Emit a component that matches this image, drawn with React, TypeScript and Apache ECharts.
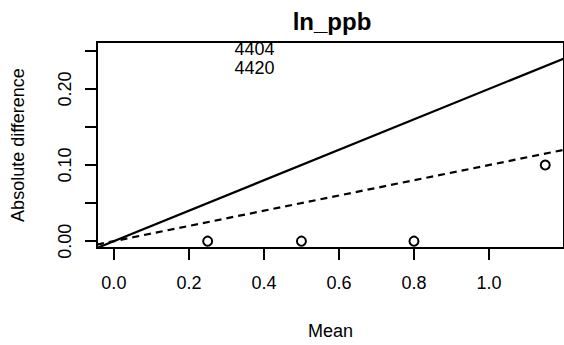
import React, { useEffect, useRef } from "react";
import * as echarts from "echarts";

// Axis limits
const xLimits = [-0.045, 1.2];
const yLimits = [-0.009, 0.2617];

// Tick positions and labelled ticks
const xTicks = [0.0, 0.2, 0.4, 0.6, 0.8, 1.0];
const yTicks = [0.0, 0.05, 0.1, 0.15, 0.2, 0.25];
const yLabelTicks = [0.0, 0.1, 0.2];

// Observations: mean vs absolute difference
const meanValues = [0.25, 0.5, 0.8, 1.15];
const absDiffValues = [0.0, 0.0, 0.0, 0.1];

// Identified sample labels
const idNames = ["4404", "4420"];
const idX = [0.375, 0.375];
const idY = [0.252, 0.228];

// Reference lines through the origin (abline slopes)
const solidSlope = 0.2;
const dashedSlope = 0.1;

const FONT = "'Liberation Sans', Arial, sans-serif";

function lineThroughOrigin(slope: number): number[][] {
  return xLimits.map((x) => [x, slope * x]);
}

export default function App() {
  const ref = useRef<HTMLDivElement>(null);

  useEffect(() => {
    document.body.style.margin = "0";
    if (!ref.current) return;
    const chart = echarts.init(ref.current, null, { renderer: "svg" });
    chart.setOption({
      animation: false,
      backgroundColor: "#fff",
      textStyle: { fontFamily: FONT },
      graphic: [
        {
          type: "text",
          x: 332,
          y: 21,
          style: {
            text: "ln_ppb",
            fill: "#000",
            font: `bold 24px ${FONT}`,
            textAlign: "center",
            textVerticalAlign: "middle",
          },
        },
      ],
      grid: {
        left: 97,
        top: 42,
        width: 470,
        height: 209,
        show: true,
        borderColor: "#000",
        borderWidth: 2,
        backgroundColor: "transparent",
      },
      xAxis: {
        type: "value",
        min: xLimits[0],
        max: xLimits[1],
        name: "Mean",
        nameLocation: "middle",
        nameGap: 74,
        nameTextStyle: { fontSize: 18, color: "#000", fontFamily: FONT },
        axisLine: { show: true, onZero: false, lineStyle: { color: "#000", width: 2 } },
        axisTick: {
          show: true,
          length: 12,
          customValues: xTicks,
          lineStyle: { color: "#000", width: 2 },
        },
        axisLabel: {
          customValues: xTicks,
          margin: 26,
          fontSize: 18,
          color: "#000",
          fontFamily: FONT,
          formatter: (v: number) => v.toFixed(1),
        },
        splitLine: { show: false },
      },
      yAxis: {
        type: "value",
        min: yLimits[0],
        max: yLimits[1],
        name: "Absolute difference",
        nameLocation: "middle",
        nameGap: 70,
        nameTextStyle: { fontSize: 18, color: "#000", fontFamily: FONT },
        axisLine: { show: true, onZero: false, lineStyle: { color: "#000", width: 2 } },
        axisTick: {
          show: true,
          length: 12,
          customValues: yTicks,
          lineStyle: { color: "#000", width: 2 },
        },
        axisLabel: {
          customValues: yLabelTicks,
          rotate: 90,
          margin: 23,
          fontSize: 18,
          color: "#000",
          fontFamily: FONT,
          formatter: (v: number) => v.toFixed(2),
        },
        splitLine: { show: false },
      },
      series: [
        {
          type: "line",
          data: lineThroughOrigin(solidSlope),
          showSymbol: false,
          lineStyle: { color: "#000", width: 2.2 },
          silent: true,
        },
        {
          type: "line",
          data: lineThroughOrigin(dashedSlope),
          showSymbol: false,
          lineStyle: { color: "#000", width: 2.2, type: [7, 5] },
          silent: true,
        },
        {
          type: "scatter",
          data: meanValues.map((m, i) => [m, absDiffValues[i]]),
          symbol: "emptyCircle",
          symbolSize: 9,
          itemStyle: { color: "#000", borderColor: "#000", borderWidth: 1.6, opacity: 1 },
        },
        {
          type: "scatter",
          data: idNames.map((n, i) => ({ name: n, value: [idX[i], idY[i]] })),
          symbolSize: 0,
          itemStyle: { opacity: 1 },
          label: {
            show: true,
            position: "inside",
            formatter: (p: any) => p.name,
            fontSize: 18,
            lineHeight: 18,
            color: "#000",
            fontFamily: FONT,
          },
        },
      ],
    });
    return () => chart.dispose();
  }, []);

  return <div ref={ref} style={{ width: 564, height: 345 }} />;
}
